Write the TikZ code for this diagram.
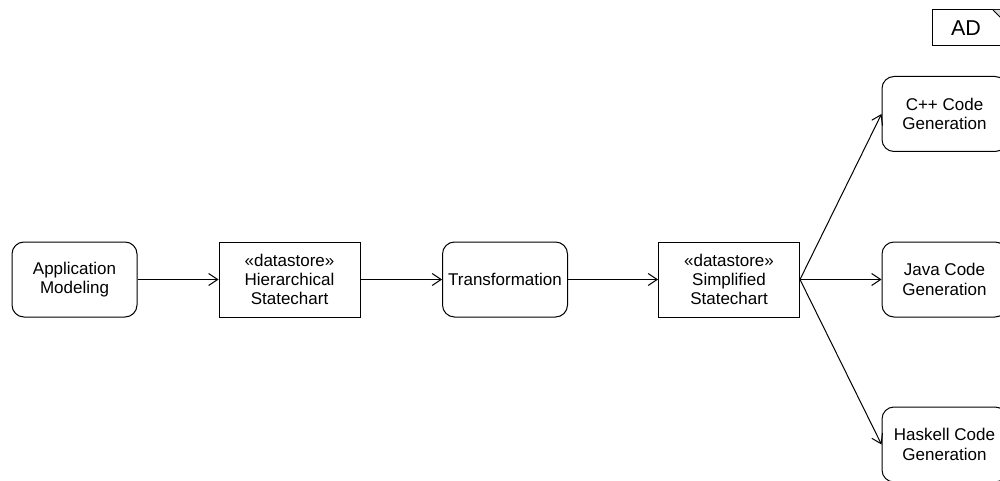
\documentclass[tikz,border=0pt]{standalone}
\usepackage{fontspec}
\setmainfont{Liberation Sans}
\usetikzlibrary{arrows.meta}
\tikzset{
  act/.style={draw, line width=1pt, rounded corners=12pt, minimum width=125pt, minimum height=75pt,
    inner sep=0pt, align=center, font=\fontsize{17}{19.5}\selectfont},
  store/.style={draw, line width=1pt, minimum width=141pt, minimum height=75pt,
    inner sep=0pt, align=center, font=\fontsize{17}{19}\selectfont},
  flow/.style={draw, line width=1pt, -{Straight Barb[length=9pt,width=12pt,line width=1pt]}},
}
\begin{document}
\begin{tikzpicture}[x=1pt,y=-1pt]
  \clip (0,0) rectangle (1000,481);
  \fill[white] (0,0) rectangle (1000,481);

  % diagram frame tag
  \draw[line width=1pt] (1010,10) -- (932,10) -- (932,46) -- (1010,46);
  \fill[black!15] (993,10) -- (1001,18) -- (1001,10) -- cycle;
  \draw[line width=0.8pt] (993,10) -- (1001,18);
  \node[font=\fontsize{21.5}{24}\selectfont, inner sep=0pt] (tag) at (966,28.5) {AD};

  % activity nodes and data stores
  \node[act]   (model) at (74.5,279.5)  {Application\\Modeling};
  \node[store] (hier)  at (289.5,279.5) {«datastore»\\Hierarchical\\Statechart};
  \node[act]   (trans) at (505,279.5)   {Transformation};
  \node[store] (simp)  at (729,279.5)   {«datastore»\\Simplified\\Statechart};
  \node[act]   (cpp)   at (944.5,114)   {C++ Code\\Generation};
  \node[act]   (java)  at (944.5,279.5) {Java Code\\Generation};
  \node[act]   (hs)    at (944.5,444.5) {Haskell Code\\Generation};

  % object flows
  \draw[flow] (model) -- (hier);
  \draw[flow] (hier) -- (trans);
  \draw[flow] (trans) -- (simp);
  \draw[flow] (simp.east) -- (cpp.west);
  \draw[flow] (simp.east) -- (java.west);
  \draw[flow] (simp.east) -- (hs.west);
\end{tikzpicture}
\end{document}
